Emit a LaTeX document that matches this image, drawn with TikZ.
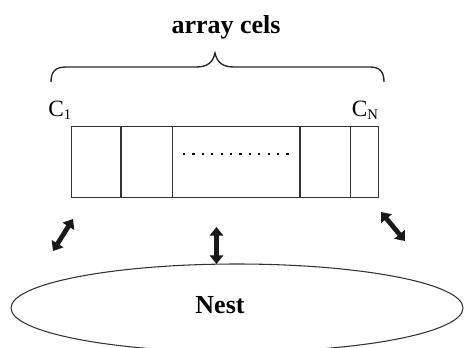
\documentclass[tikz,border=0pt]{standalone}
\usepackage{fontspec}
\setmainfont{Liberation Serif}
\usetikzlibrary{arrows.meta,shapes.geometric}
\tikzset{
  thinline/.style={line width=0.8pt, black!80},
  braceline/.style={line width=1pt, black!85},
  bigtext/.style={font=\fontsize{19.5}{22}\selectfont\bfseries, inner sep=0pt},
  clabel/.style={font=\fontsize{17.5}{20}\selectfont, inner sep=0pt, anchor=base west},
  dblarrow/.style={line width=3.6pt, black!90, {Triangle[width=10pt,length=6.5pt]}-{Triangle[width=10pt,length=6.5pt]}},
}
\newcommand{\subsc}[1]{\raisebox{-0.35ex}{\fontsize{11}{11}\selectfont #1}}
\begin{document}
\begin{tikzpicture}[x=0.75pt,y=-0.75pt]
\useasboundingbox (0,0) rectangle (464,347);
\begin{scope}
\clip (0,0) rectangle (464,347);
% nest ellipse
\node[draw, thinline, ellipse, minimum width=339pt, minimum height=66pt, inner sep=0pt] (nest) at (237,308) {};
\end{scope}
\node[bigtext, anchor=base] (nestlbl) at (220,313) {Nest};
% title
\node[bigtext, anchor=base] (title) at (226,33) {array cels};
% brace
\draw[braceline] (51,82) .. controls (51,72) and (55,67) .. (66,67) -- (196,67)
  .. controls (208,67) and (213,62) .. (215,53)
  .. controls (217,62) and (222,67) .. (234,67) -- (370,67)
  .. controls (380,67) and (384,72) .. (384,82);
% array
\node[draw, thinline, minimum width=230.5pt, minimum height=53.25pt, inner sep=0pt, anchor=north west] (arr) at (70.7,125.7) {};
\foreach \xx in {121,172.3,300,350.7}{
  \draw[thinline] (\xx,125.7) -- (\xx,196.7);
}
\draw[line width=1.6pt, dash pattern=on 1.6pt off 5.45pt, line cap=butt] (183,154.3) -- (290,154.3);
% labels
\node[clabel] (c1) at (48,116) {C\subsc{1}};
\node[clabel] (cn) at (351.5,116) {C\subsc{N}};
% arrows
\coordinate (la1) at (53,251);
\coordinate (la2) at (73,219);
\coordinate (ma1) at (216.5,227);
\coordinate (ma2) at (216.5,264);
\coordinate (ra1) at (381,212);
\coordinate (ra2) at (405,241);
\draw[dblarrow] (la1) -- (la2);
\draw[dblarrow] (ma1) -- (ma2);
\draw[dblarrow] (ra1) -- (ra2);
\end{tikzpicture}
\end{document}
